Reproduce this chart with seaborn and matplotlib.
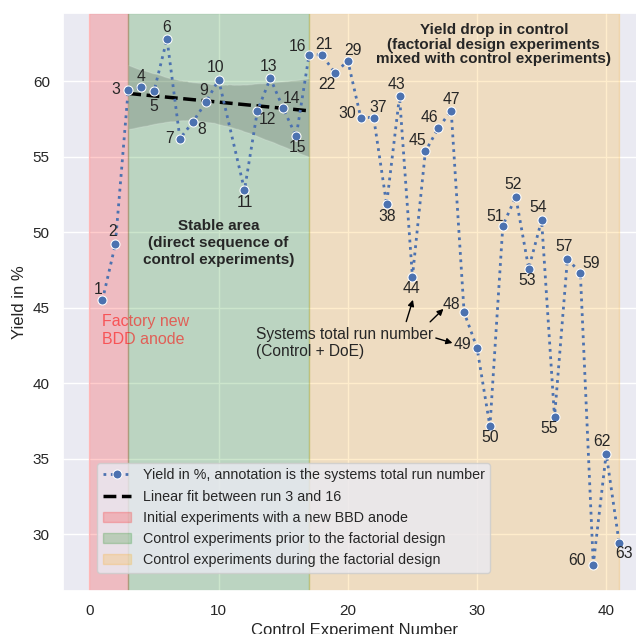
import numpy as np
import pandas as pd
import seaborn as sns
import matplotlib.pyplot as plt

# control experiment number (nothing recorded for number 11)
experiment = [1, 2, 3, 4, 5, 6, 7, 8, 9, 10,
              12, 13, 14, 15, 16, 17, 18, 19, 20, 21,
              22, 23, 24, 25, 26, 27, 28, 29, 30, 31,
              32, 33, 34, 35, 36, 37, 38, 39, 40, 41]
yield_pct = [45.5, 49.2, 59.45, 59.6, 59.35, 62.8, 56.2, 57.3, 58.6, 60.1,
             52.8, 58.05, 60.2, 58.2, 56.35, 61.75, 61.75, 60.55, 61.35, 57.6,
             57.6, 51.85, 59.0, 47.05, 55.35, 56.9, 58.05, 44.7, 42.35, 37.15,
             50.45, 52.35, 47.6, 50.8, 37.75, 48.25, 47.3, 28.0, 35.35, 29.45]
# systems total run number (control + DoE)
run_number = [1, 2, 3, 4, 5, 6, 7, 8, 9, 10,
              11, 12, 13, 14, 15, 16, 21, 22, 29, 30,
              37, 38, 43, 44, 45, 46, 47, 48, 49, 50,
              51, 52, 53, 54, 55, 57, 59, 60, 62, 63]

# where each run number label sits relative to its point (pixels)
label_offsets = [(-4, 11), (-3, 13), (-12, 0), (0, 11), (0, -15), (0, 11), (-10, 0), (9, -7), (-2, 12), (-3, 12),
                 (0, -12), (10, -9), (-2, 12), (8, 10), (1, -11), (-12, 8), (2, 10), (-8, -12), (5, 10), (-14, 4),
                 (4, 10), (0, -12), (-3, 12), (-1, -12), (-8, 11), (-9, 11), (0, 11), (-13, 8), (-15, 3), (0, -11),
                 (-8, 9), (-3, 12), (-2, -12), (-3, 13), (-5, -11), (-3, 12), (11, 10), (-16, 4), (-4, 12), (5, -11)]

df = pd.DataFrame({'experiment': experiment, 'yield': yield_pct, 'run': run_number})
fit_df = df.iloc[2:16]  # runs 3 .. 16

sns.set_theme(style="darkgrid")
plt.rcParams['font.family'] = ['Liberation Sans', 'DejaVu Sans']

fig = plt.figure(figsize=(6.36, 6.34), dpi=100)
ax = fig.add_axes([63 / 636, 43.3 / 634, 582.6 / 636, 577.7 / 634])

ax.axvspan(0, 3, color='red', alpha=0.2, label='Initial experiments with a new BBD anode')
ax.axvspan(3, 17, color='green', alpha=0.2, label='Control experiments prior to the factorial design')
ax.axvspan(17, 41, color='orange', alpha=0.2, label='Control experiments during the factorial design')

sns.regplot(x='experiment', y='yield', data=fit_df, scatter=False, color='black', seed=0,
            line_kws={'ls': '--', 'lw': 2.5}, label='Linear fit between run 3 and 16', ax=ax)
sns.lineplot(x='experiment', y='yield', data=df, marker='o', linestyle=':', lw=2,
             markeredgecolor='white', markersize=6.5, color='C0',
             label='Yield in %, annotation is the systems total run number', ax=ax)

for (x, y, r), off in zip(df[['experiment', 'yield', 'run']].values, label_offsets):
    ax.annotate(str(int(r)), (x, y), xytext=off, textcoords='offset pixels',
                ha='center', va='center', fontsize=11.3, color='#262626')

ax.text(0.95, 43.5, 'Factory new\nBDD anode', color='red', alpha=0.55, fontsize=11.5,
        ha='left', va='center')
ax.text(10, 49.3, 'Stable area\n(direct sequence of\ncontrol experiments)', fontsize=11,
        fontweight='bold', ha='center', va='center', multialignment='center', linespacing=1.28)
ax.text(31.3, 62.42, 'Yield drop in control\n(factorial design experiments\nmixed with control experiments)',
        fontsize=11, fontweight='bold', ha='center', va='center',
        multialignment='center', linespacing=1.06)
ax.text(12.9, 42.68, 'Systems total run number\n(Control + DoE)', fontsize=11.2, ha='left', va='center')

arrow = dict(arrowstyle='-|>', color='black', lw=1, mutation_scale=9, shrinkA=0, shrinkB=0)
ax.annotate('', xy=(25.04, 45.53), xytext=(24.52, 44.09), arrowprops=arrow)
ax.annotate('', xy=(27.4, 44.93), xytext=(26.37, 44.07), arrowprops=arrow)
ax.annotate('', xy=(28.1, 42.67), xytext=(26.81, 43.0), arrowprops=arrow)

ax.set_xlim(-2.05, 43.05)
ax.set_ylim(26.27, 64.52)
ax.set_xlabel('Control Experiment Number')
ax.set_ylabel('Yield in %')

handles, labels = ax.get_legend_handles_labels()
order = [labels.index(l) for l in ['Yield in %, annotation is the systems total run number',
                                   'Linear fit between run 3 and 16',
                                   'Initial experiments with a new BBD anode',
                                   'Control experiments prior to the factorial design',
                                   'Control experiments during the factorial design']]
ax.legend([handles[i] for i in order], [labels[i] for i in order], fontsize=10.3,
          loc='lower left', bbox_to_anchor=(0.058, 0.031), borderaxespad=0)

fig.savefig('out.png', dpi=100)
